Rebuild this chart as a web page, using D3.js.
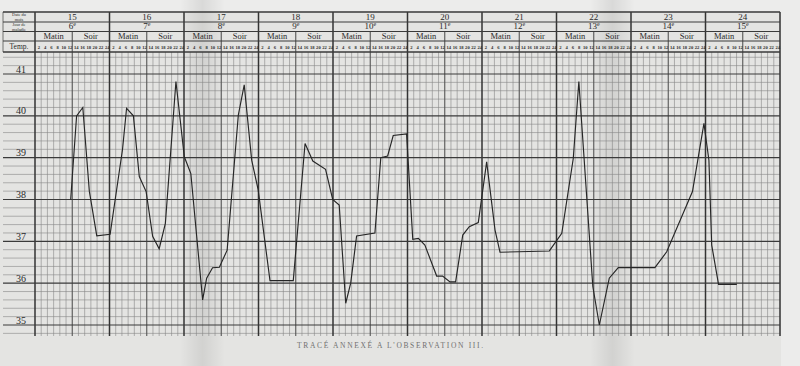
<!DOCTYPE html>
<html>
<head>
<meta charset="utf-8">
<script src="https://cdn.jsdelivr.net/npm/d3@7"></script>
<style>
html,body{margin:0;padding:0;background:#e6e6e4;}
svg{display:block;}
</style>
</head>
<body>
<script>
// ---- data ----
const days = [15, 16, 17, 18, 19, 20, 21, 22, 23, 24];
const diseaseDays = [6, 7, 8, 9, 10, 11, 12, 13, 14, 15];
const hourLabels = [2, 4, 6, 8, 10, 12, 14, 16, 18, 20, 22, 24];
const tempTicks = [35, 36, 37, 38, 39, 40, 41];
// hours counted from day 15, 0 h
const hours = [11.5, 13.4, 15.4, 17.5, 19.9, 24.2, 28.2, 29.5, 31.7, 33.6, 35.8, 37.9, 40.0, 42.0,
  45.4, 48.1, 50.2, 54.0, 55.3, 57.2, 59.4, 61.9, 65.5, 67.4, 69.8, 71.9, 75.7, 83.2,
  87.0, 89.5, 93.6, 95.9, 98.0, 100.1, 101.7, 103.6, 109.5, 111.4, 113.6, 115.4, 119.7,
  121.7, 123.5, 125.6, 129.4, 131.3, 133.7, 135.5, 137.8, 139.9, 142.8, 145.5, 148.2,
  149.8, 165.7, 169.7, 173.4, 175.2, 179.7, 181.8, 185.0, 187.9, 199.7, 203.5, 211.8,
  215.5, 217.1, 218.0, 220.2, 226.1];
const temps = [38.0, 40.0, 40.2, 38.2, 37.13, 37.17, 39.2, 40.18, 40.0, 38.55, 38.19, 37.12, 36.82, 37.43,
  40.82, 39.02, 38.62, 35.6, 36.12, 36.37, 36.38, 36.79, 40.02, 40.74, 38.94, 38.23, 36.06, 36.06,
  39.34, 38.92, 38.72, 38.0, 37.87, 35.52, 36.0, 37.13, 37.2, 39.0, 39.04, 39.53, 39.57,
  37.05, 37.07, 36.91, 36.17, 36.17, 36.03, 36.03, 37.15, 37.35, 37.45, 38.9, 37.27,
  36.74, 36.77, 37.19, 38.98, 40.82, 35.92, 35.0, 36.12, 36.37, 36.37, 36.75, 38.19,
  39.82, 38.94, 36.91, 35.97, 35.97];
const caption = "TRACÉ ANNEXÉ A L'OBSERVATION III.";

// ---- drawing ----
const W = 800, H = 366;
const svg = d3.select("body").append("svg").attr("width", W).attr("height", H);

const xs = d3.scaleLinear().domain([0, 240]).range([35, 780]);
const ys = d3.scaleLinear().domain([35, 41]).range([325, 74]);

const defs = svg.append("defs");
const fold = defs.append("linearGradient").attr("id", "fold");
fold.append("stop").attr("offset", "0%").attr("stop-color", "#000").attr("stop-opacity", 0);
fold.append("stop").attr("offset", "50%").attr("stop-color", "#000").attr("stop-opacity", 0.08);
fold.append("stop").attr("offset", "100%").attr("stop-color", "#000").attr("stop-opacity", 0);

// paper
svg.append("rect").attr("width", W).attr("height", H).attr("fill", "#e4e4e2");
svg.append("rect").attr("x", 0).attr("y", 0).attr("width", W).attr("height", 11).attr("fill", "#ececeb");
svg.append("rect").attr("x", 781).attr("y", 0).attr("width", 19).attr("height", H).attr("fill", "#ececeb");
svg.append("rect").attr("x", 180).attr("y", 0).attr("width", 45).attr("height", H).attr("fill", "url(#fold)");
svg.append("rect").attr("x", 590).attr("y", 0).attr("width", 45).attr("height", H).attr("fill", "url(#fold)");

const grid = svg.append("g");
const xL = 3, xR = xs(240);
const gTop = 52, gBot = 336;

// horizontal minor lines every 0.2 degree
const minorT = d3.range(174, 208).map(k => +(k * 0.2).toFixed(1)).filter(t => !Number.isInteger(t));
grid.selectAll("line.hmin").data(minorT).join("line")
  .attr("x1", xL).attr("x2", xR).attr("y1", d => ys(d)).attr("y2", d => ys(d))
  .attr("stroke", "#868686").attr("stroke-width", 0.6);

// vertical lines every 2 hours
const vHours = d3.range(0, 241, 2);
grid.selectAll("line.v").data(vHours).join("line")
  .attr("x1", d => xs(d)).attr("x2", d => xs(d))
  .attr("y1", d => d % 24 === 0 ? 12 : (d % 24 === 12 ? 31.5 : gTop))
  .attr("y2", gBot)
  .attr("stroke", d => d % 24 === 0 ? "#333" : (d % 24 === 12 ? "#555" : "#868686"))
  .attr("stroke-width", d => d % 24 === 0 ? 1.5 : (d % 24 === 12 ? 1.1 : 0.6));

// left border of label column
grid.append("line").attr("x1", xL).attr("x2", xL).attr("y1", 12).attr("y2", 52)
  .attr("stroke", "#555").attr("stroke-width", 0.8);

// horizontal major lines
grid.selectAll("line.hmaj").data(tempTicks).join("line")
  .attr("x1", xL).attr("x2", xR).attr("y1", d => ys(d)).attr("y2", d => ys(d))
  .attr("stroke", "#3a3a3a").attr("stroke-width", 1.2);

// header lines
[12, 22, 31.5, 41, 52].forEach((y, i) => {
  grid.append("line").attr("x1", xL).attr("x2", xR).attr("y1", y).attr("y2", y)
    .attr("stroke", "#3a3a3a").attr("stroke-width", i === 0 || i === 4 ? 1.4 : 1);
});

const serif = "'Liberation Serif', 'DejaVu Serif', serif";
const txt = svg.append("g").attr("font-family", serif).attr("fill", "#2a2a2a");

// y axis labels
txt.selectAll("text.yl").data(tempTicks).join("text")
  .attr("x", 21).attr("y", d => ys(d) - 1.5)
  .attr("text-anchor", "middle").attr("font-size", 10).text(d => d);

// left column headers (two small lines per row)
const lc = [["Date du", 16.3], ["mois", 21.0], ["Jour de", 25.9], ["maladie", 30.6]];
lc.forEach(([s, y]) => {
  txt.append("text").attr("x", 19).attr("y", y).attr("text-anchor", "middle")
    .attr("font-size", 4.4).text(s);
});
txt.append("text").attr("x", 19).attr("y", 48.5).attr("text-anchor", "middle")
  .attr("font-size", 7.5).text("Temp.");

// day numbers
txt.selectAll("text.day").data(days).join("text")
  .attr("x", (d, i) => xs(i * 24 + 12)).attr("y", 19.5)
  .attr("text-anchor", "middle").attr("font-size", 9).text(d => d);

// disease days with superscript
const dd = txt.selectAll("text.dd").data(diseaseDays).join("text")
  .attr("x", (d, i) => xs(i * 24 + 12)).attr("y", 29)
  .attr("text-anchor", "middle").attr("font-size", 9);
dd.append("tspan").text(d => d);
dd.append("tspan").attr("font-size", 6).attr("dy", -3).text("e");

// Matin / Soir
days.forEach((d, i) => {
  txt.append("text").attr("x", xs(i * 24 + 6)).attr("y", 39).attr("text-anchor", "middle")
    .attr("font-size", 8.5).text("Matin");
  txt.append("text").attr("x", xs(i * 24 + 18)).attr("y", 39).attr("text-anchor", "middle")
    .attr("font-size", 8.5).text("Soir");
});

// hour labels
const hl = [];
days.forEach((d, i) => hourLabels.forEach(h => hl.push(i * 24 + h)));
txt.selectAll("text.hl").data(hl).join("text")
  .attr("x", d => xs(d) - 2.2).attr("y", 48.5)
  .attr("text-anchor", "middle").attr("font-size", 4.6).attr("font-weight", "bold")
  .text(d => (d % 24 === 0 ? 24 : d % 24));

// temperature curve
const line = d3.line().x(d => xs(d[0])).y(d => ys(d[1]));
svg.append("path").datum(d3.zip(hours, temps))
  .attr("d", line).attr("fill", "none")
  .attr("stroke", "#262626").attr("stroke-width", 1.15).attr("stroke-linejoin", "miter");

// caption
svg.append("text").attr("x", 390).attr("y", 348).attr("text-anchor", "middle")
  .attr("font-family", serif).attr("font-size", 7.5).attr("fill", "#707070")
  .attr("textLength", 186).attr("lengthAdjust", "spacing")
  .text(caption);
</script>
</body>
</html>
